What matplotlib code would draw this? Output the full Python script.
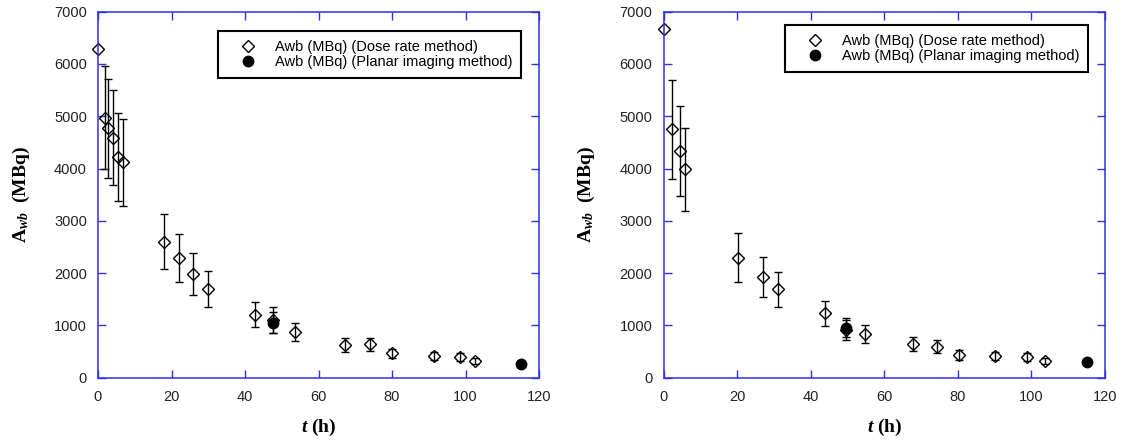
import numpy as np
import matplotlib
matplotlib.use("Agg")
import matplotlib.pyplot as plt
from matplotlib.lines import Line2D

plt.rcParams['font.family'] = ['Liberation Sans', 'DejaVu Sans']
plt.rcParams['mathtext.fontset'] = 'custom'
plt.rcParams['mathtext.rm'] = 'Liberation Serif:bold'
plt.rcParams['mathtext.it'] = 'Liberation Serif:italic:bold'
plt.rcParams['mathtext.bf'] = 'Liberation Serif:bold'

nan = np.nan

# left panel - dose rate method
t_dose_L = [0, 1.8, 2.8, 4.2, 5.5, 6.7, 17.9, 22.0, 25.9, 29.9, 42.8, 47.5, 53.7,
            67.3, 74.1, 80.0, 91.5, 98.6, 102.5]
a_dose_L = [6285, 4970, 4770, 4590, 4225, 4120, 2600, 2285, 1985, 1695, 1205, 1100, 880,
            625, 640, 465, 415, 395, 320]
e_dose_L = [nan, 985, 950, 910, 845, 830, 525, 455, 400, 345, 240, 250, 175,
            128, 125, 90, 80, 70, 50]
# left panel - planar imaging
t_img_L = [47.5, 115.2]
a_img_L = [1055, 256]
e_img_L = [200, nan]

# right panel - dose rate method
t_dose_R = [0, 2.2, 4.5, 5.9, 20.3, 27.0, 31.0, 43.8, 49.5, 54.7, 67.9, 74.3, 80.2,
            90.0, 98.8, 103.6]
a_dose_R = [6660, 4750, 4340, 3985, 2295, 1920, 1690, 1230, 912, 830, 644, 593, 434,
            421, 396, 313]
e_dose_R = [nan, 950, 865, 800, 465, 385, 340, 240, 200, 170, 130, 125, 90,
            80, 70, 55]
# right panel - planar imaging
t_img_R = [49.5, 115.1]
a_img_R = [956, 306]
e_img_R = [180, nan]

label_dose = 'Awb (MBq) (Dose rate method)'
label_img = 'Awb (MBq) (Planar imaging method)'

SPINE = '#3030e0'

fig = plt.figure(figsize=(11.23, 4.48), dpi=100)
ax1 = fig.add_axes([98 / 1123, 1 - 377.7 / 448, 441 / 1123, 366 / 448])
ax2 = fig.add_axes([663.5 / 1123, 1 - 377.7 / 448, 441.5 / 1123, 366 / 448])

panels = [
    (ax1, t_dose_L, a_dose_L, e_dose_L, t_img_L, a_img_L, e_img_L, (0.272, 0.947)),
    (ax2, t_dose_R, a_dose_R, e_dose_R, t_img_R, a_img_R, e_img_R, (0.275, 0.964)),
]

for ax, td, ad, ed, ti, ai, ei, leg_pos in panels:
    for c in ax.errorbar(ti, ai, yerr=ei, fmt='o', ms=7.5, mfc='black', mec='black',
                         ecolor='black', elinewidth=1, capsize=3, capthick=1).lines:
        for a in (c if isinstance(c, tuple) else [c]):
            if a is not None:
                a.set_clip_on(False)
    for c in ax.errorbar(td, ad, yerr=ed, fmt='D', ms=6.5, mfc='none', mec='black', mew=1,
                         ecolor='black', elinewidth=1, capsize=3, capthick=1).lines:
        for a in (c if isinstance(c, tuple) else [c]):
            if a is not None:
                a.set_clip_on(False)

    ax.set_xlim(0, 120)
    ax.set_ylim(0, 7000)
    ax.set_xticks(np.arange(0, 121, 20))
    ax.set_yticks(np.arange(0, 7001, 1000))
    for s in ax.spines.values():
        s.set_color(SPINE)
        s.set_linewidth(1.1)
    ax.tick_params(direction='in', length=6, width=1, color=SPINE,
                   top=True, right=True, labelsize=10.5, labelcolor='#222222')
    ax.tick_params(axis='x', pad=9)
    ax.tick_params(axis='y', pad=8)

    ax.set_xlabel(r'$t$ (h)', fontsize=14, fontfamily='Liberation Serif',
                  fontweight='bold', labelpad=9)
    ax.set_ylabel(r'$\mathbf{A}_{wb}$  (MBq)', fontsize=14, fontfamily='Liberation Serif',
                  fontweight='bold', labelpad=16)

    handles = [
        Line2D([], [], ls='none', marker='D', ms=6.5, mfc='none', mec='black', mew=1),
        Line2D([], [], ls='none', marker='o', ms=7.5, mfc='black', mec='black'),
    ]
    leg = ax.legend(handles, [label_dose, label_img], loc='upper left', bbox_to_anchor=leg_pos,
                    borderaxespad=0, fontsize=10.5, frameon=True, fancybox=False,
                    edgecolor='black', framealpha=1, borderpad=0.6,
                    labelspacing=0.1, handlelength=2.9, handletextpad=0.4)
    leg.get_frame().set_linewidth(1.5)

fig.savefig('out.png', dpi=100)
